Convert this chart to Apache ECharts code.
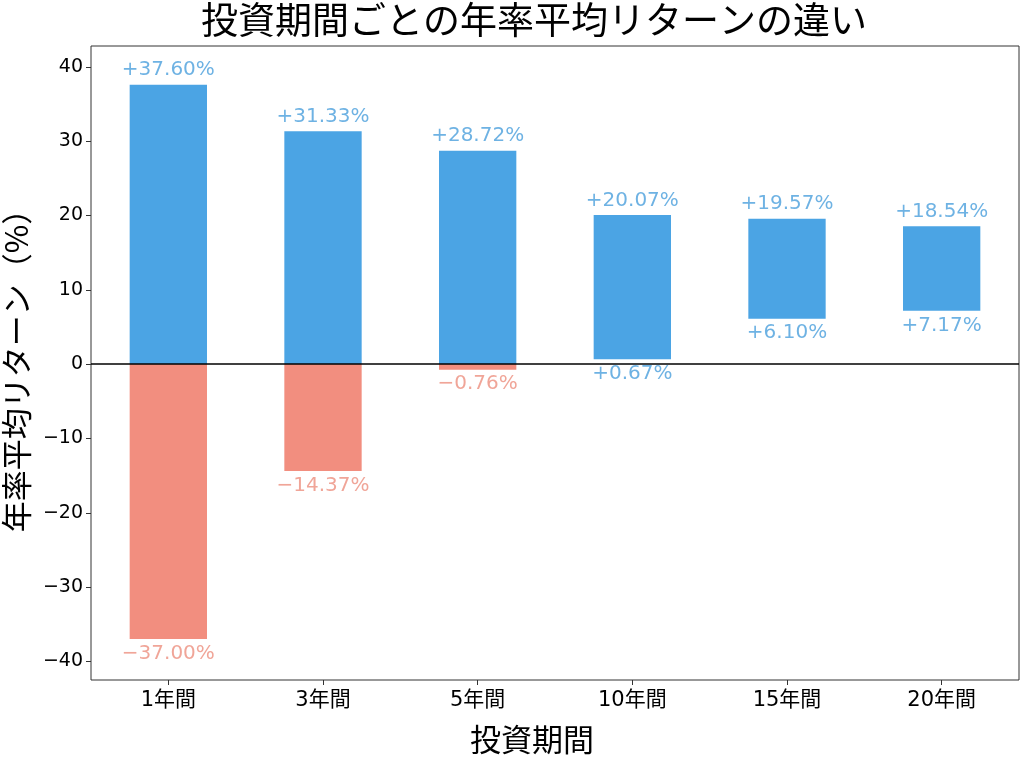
<!DOCTYPE html>
<html><head><meta charset="utf-8">
<script src="https://cdn.jsdelivr.net/npm/echarts@6/dist/echarts.min.js"></script>
<style>html,body{margin:0;padding:0;background:#fff}#c{width:1024px;height:759px}</style>
</head><body><div id="c"></div>
<script>
const categories = ['1年間', '3年間', '5年間', '10年間', '15年間', '20年間'];
const maxReturns = [37.60, 31.33, 28.72, 20.07, 19.57, 18.54];
const minReturns = [-37.00, -14.37, -0.76, 0.67, 6.10, 7.17];
const yTicks = [-40, -30, -20, -10, 0, 10, 20, 30, 40];

const BLUE = '#4BA4E4';
const RED = '#F28E7F';
const BLUE_TXT = '#4A9FDC';
const RED_TXT = '#EC8E7E';
const FONT = '"DejaVu Sans", "Noto Sans CJK JP", sans-serif';
const CJK = '"Noto Sans CJK JP", "DejaVu Sans", sans-serif';

function fmt(v) {
  return (v >= 0 ? '+' : '\u2212') + Math.abs(v).toFixed(2) + '%';
}

const baseVals = minReturns.map(m => Math.max(m, 0));
const blueVals = maxReturns.map((m, i) => m - baseVals[i]);
const redVals = minReturns.map(m => (m < 0 ? m : '-'));

const chart = echarts.init(document.getElementById('c'), null, { renderer: 'canvas' });
chart.setOption({
  animation: false,
  backgroundColor: '#fff',
  title: {
    text: '投資期間ごとの年率平均リターンの違い',
    left: 201, top: 1, padding: 0,
    textStyle: { fontFamily: CJK, fontSize: 37, fontWeight: 'normal', color: '#000' }
  },
  grid: {
    left: 91, right: 5, top: 46, bottom: 79,
    containLabel: false,
    outerBoundsMode: 'none',
    show: true, borderColor: '#333', borderWidth: 1, backgroundColor: 'transparent'
  },
  xAxis: {
    type: 'category',
    data: categories,
    boundaryGap: true,
    name: '投資期間',
    nameLocation: 'middle',
    nameGap: 44,
    nameTextStyle: { fontFamily: CJK, fontSize: 31, color: '#000', padding: [0, 46, 0, 0] },
    axisLine: { show: false, onZero: false },
    axisTick: { show: true, alignWithLabel: true, length: 5, lineStyle: { color: '#333' } },
    axisLabel: { fontFamily: FONT, fontSize: 21, color: '#000', margin: 10 },
    splitLine: { show: false }
  },
  yAxis: {
    type: 'value',
    min: -42.5, max: 42.8,
    name: '年率平均リターン（%）',
    nameLocation: 'middle',
    nameGap: 57,
    nameRotate: 90,
    nameTextStyle: { fontFamily: CJK, fontSize: 31, color: '#000' },
    axisLine: { show: false, onZero: false },
    axisTick: { show: true, length: 5, customValues: yTicks, lineStyle: { color: '#333' } },
    axisLabel: {
      fontFamily: FONT, fontSize: 19, color: '#000', margin: 8,
      customValues: yTicks,
      formatter: v => (v < 0 ? '\u2212' + Math.abs(v) : String(v))
    },
    splitLine: { show: false }
  },
  series: [
    {
      type: 'bar', stack: 'r', barWidth: '50%',
      data: baseVals,
      itemStyle: { color: 'transparent' },
      silent: true
    },
    {
      type: 'bar', stack: 'r', barWidth: '50%',
      data: blueVals,
      itemStyle: { color: BLUE },
      markLine: {
        silent: true, symbol: 'none', label: { show: false },
        lineStyle: { color: '#000', width: 1.5, type: 'solid' },
        data: [{ yAxis: 0 }]
      }
    },
    {
      type: 'bar', stack: 'r', barWidth: '50%',
      data: redVals,
      itemStyle: { color: RED }
    },
    {
      type: 'scatter', symbolSize: 1,
      itemStyle: { color: 'transparent' },
      data: maxReturns.map((v, i) => [i, v]),
      label: {
        show: true, position: 'top', distance: 4,
        fontFamily: FONT, fontSize: 20, color: BLUE_TXT,
        formatter: p => fmt(p.value[1])
      },
      z: 5
    },
    {
      type: 'scatter', symbolSize: 1,
      itemStyle: { color: 'transparent' },
      data: minReturns.map((v, i) => ({
        value: [i, v],
        label: { color: v < 0 ? RED_TXT : BLUE_TXT }
      })),
      label: {
        show: true, position: 'bottom', distance: 4,
        fontFamily: FONT, fontSize: 20,
        formatter: p => fmt(p.value[1])
      },
      z: 5
    }
  ]
});
</script>
</body></html>
